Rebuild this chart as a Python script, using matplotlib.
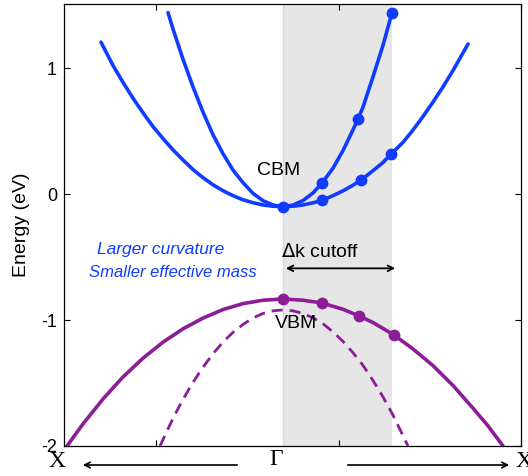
import matplotlib
matplotlib.use("Agg")
import matplotlib.pyplot as plt

plt.rcParams['font.family'] = ['Liberation Sans', 'DejaVu Sans']

# k axis: Gamma at 0, arbitrary units
# steep conduction band (larger curvature)
cb_steep_k = [-1.15, -1.1, -1.0, -0.9, -0.8, -0.7, -0.6, -0.5, -0.4, -0.3, -0.2, -0.1, 0.0,
              0.1, 0.2, 0.3, 0.39, 0.5, 0.6, 0.7, 0.75, 0.8, 0.9, 1.0, 1.09]
cb_steep_e = [1.44, 1.31, 1.07, 0.85, 0.65, 0.47, 0.32, 0.19, 0.09, 0.005, -0.053, -0.088, -0.10,
              -0.088, -0.052, 0.008, 0.087, 0.205, 0.345, 0.51, 0.595, 0.69, 0.93, 1.18, 1.44]

# flatter conduction band
cb_flat_k = [-1.82, -1.7, -1.6, -1.5, -1.4, -1.3, -1.2, -1.1, -1.0, -0.9, -0.8, -0.7, -0.6,
             -0.5, -0.4, -0.3, -0.2, -0.1, 0.0, 0.1, 0.2, 0.3, 0.39, 0.5, 0.6, 0.7, 0.78,
             0.9, 1.0, 1.08, 1.2, 1.3, 1.4, 1.5, 1.6, 1.7, 1.85]
cb_flat_e = [1.205, 1.02, 0.886, 0.76, 0.645, 0.535, 0.44, 0.35, 0.27, 0.194, 0.13, 0.073, 0.026,
             -0.013, -0.046, -0.069, -0.087, -0.097, -0.10, -0.097, -0.087, -0.07, -0.05,
             -0.013, 0.025, 0.07, 0.11, 0.185, 0.25, 0.317, 0.41, 0.508, 0.615, 0.73, 0.85,
             0.98, 1.19]

# valence band (solid)
vb_k = [-2.16, -2.0, -1.8, -1.6, -1.4, -1.2, -1.0, -0.8, -0.6, -0.4, -0.2, 0.0,
        0.2, 0.39, 0.6, 0.76, 0.9, 1.11, 1.3, 1.5, 1.7, 1.9, 2.05, 2.2]
vb_e = [-2.0, -1.825, -1.627, -1.452, -1.303, -1.176, -1.07, -0.985, -0.917, -0.87, -0.843, -0.833,
        -0.843, -0.865, -0.915, -0.968, -1.02, -1.119, -1.23, -1.362, -1.52, -1.70, -1.84, -2.0]

# valence band (dashed)
vb2_k = [-1.23, -1.1, -1.0, -0.9, -0.8, -0.7, -0.6, -0.5, -0.4, -0.3, -0.2, -0.1, 0.0,
         0.1, 0.2, 0.3, 0.4, 0.5, 0.6, 0.7, 0.8, 0.9, 1.0, 1.1, 1.25]
vb2_e = [-2.0, -1.78, -1.63, -1.495, -1.375, -1.268, -1.175, -1.098, -1.035, -0.984, -0.948,
         -0.927, -0.92, -0.927, -0.948, -0.983, -1.03, -1.094, -1.17, -1.26, -1.36, -1.48,
         -1.61, -1.755, -2.0]

# sampled points (markers)
cb_steep_pts_k = [0.0, 0.39, 0.75, 1.09]
cb_steep_pts_e = [-0.10, 0.087, 0.595, 1.44]
cb_flat_pts_k = [0.39, 0.78, 1.08]
cb_flat_pts_e = [-0.05, 0.11, 0.317]
vb_pts_k = [0.0, 0.39, 0.76, 1.11]
vb_pts_e = [-0.833, -0.865, -0.968, -1.119]

cutoff = 1.09
yticks = [-2, -1, 0, 1]
ytick_labels = ['-2', '-1', '0', '1']
xticks = [-1.27, 0.56, 2.38]

blue = '#0f3cff'
purple = '#8c1c98'

fig = plt.figure(figsize=(5.28, 4.76), dpi=100)
ax = fig.add_axes([64 / 528, 30 / 476, 457 / 528, 442 / 476])

ax.axvspan(0, cutoff, color='#e6e6e6', lw=0, zorder=0)
ax.axvline(0, color='#c8dcf2', lw=1.0, zorder=1)

ax.plot(cb_steep_k, cb_steep_e, color=blue, lw=2.6, solid_capstyle='round', zorder=3)
ax.plot(cb_flat_k, cb_flat_e, color=blue, lw=2.6, solid_capstyle='round', zorder=3)
ax.plot(vb_k, vb_e, color=purple, lw=2.6, zorder=3)
ax.plot(vb2_k, vb2_e, color=purple, lw=2.0, ls=(0, (4, 2.5)), zorder=3)

ax.plot(cb_steep_pts_k, cb_steep_pts_e, 'o', color=blue, ms=7.5, zorder=4)
ax.plot(cb_flat_pts_k, cb_flat_pts_e, 'o', color=blue, ms=7.5, zorder=4)
ax.plot(vb_pts_k, vb_pts_e, 'o', color=purple, ms=7.5, zorder=4)

ax.set_xlim(-2.19, 2.38)
ax.set_ylim(-2, 1.508)
ax.set_yticks(yticks)
ax.set_yticklabels(ytick_labels, fontsize=13)
ax.set_xticks(xticks)
ax.set_xticklabels([])
ax.tick_params(direction='in', length=4, width=0.8, top=True, right=True, pad=5)
for s in ax.spines.values():
    s.set_linewidth(0.9)

fig.text(22 / 528, 1 - 225 / 476, 'Energy (eV)', fontsize=14, rotation=90,
         ha='center', va='center')

ax.text(-0.04, 0.19, 'CBM', fontsize=14, ha='center', va='center')
ax.text(0.13, -1.03, 'VBM', fontsize=14, ha='center', va='center')
ax.text(0.37, -0.46, r'$\Delta$k cutoff', fontsize=14, ha='center', va='center')
ax.annotate('', xy=(0.0, -0.59), xytext=(1.15, -0.59),
            arrowprops=dict(arrowstyle='<->', color='black', lw=1.3))

ax.text(-1.22, -0.44, 'Larger curvature', fontsize=12.5, style='italic', color=blue,
        ha='center', va='center')
ax.text(-1.10, -0.62, 'Smaller effective mass', fontsize=12, style='italic', color=blue,
        ha='center', va='center')

# k-path labels under the axis
serif = ['Liberation Serif', 'DejaVu Serif']
ax.text(-2.26, -0.034, 'X', fontsize=17, family=serif, ha='center', va='center',
        transform=ax.get_xaxis_transform(), clip_on=False)
ax.text(-0.07, -0.03, '\u0393', fontsize=17, family=serif, ha='center', va='center',
        transform=ax.get_xaxis_transform(), clip_on=False)
ax.text(2.41, -0.036, 'X', fontsize=17, family=serif, ha='center', va='center',
        transform=ax.get_xaxis_transform(), clip_on=False)
ax.annotate('', xy=(-2.03, -0.043), xytext=(-0.43, -0.043),
            xycoords=('data', 'axes fraction'), textcoords=('data', 'axes fraction'),
            arrowprops=dict(arrowstyle='->', color='black', lw=1.2), annotation_clip=False)
ax.annotate('', xy=(2.29, -0.043), xytext=(0.62, -0.043),
            xycoords=('data', 'axes fraction'), textcoords=('data', 'axes fraction'),
            arrowprops=dict(arrowstyle='->', color='black', lw=1.2), annotation_clip=False)

fig.savefig('out.png', dpi=100)
